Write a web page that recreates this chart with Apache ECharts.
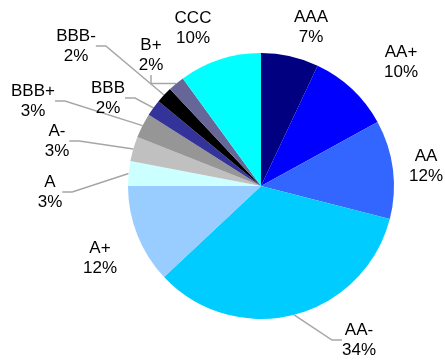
<!DOCTYPE html>
<html>
<head>
<meta charset="utf-8">
<script src="https://cdn.jsdelivr.net/npm/echarts@6/dist/echarts.min.js"></script>
<style>
html,body{margin:0;padding:0;background:#fff;}
#chart{width:445px;height:361px;}
</style>
</head>
<body>
<div id="chart"></div>
<script>
// Data
const categories = ['AAA','AA+','AA','AA-','A+','A','A-','BBB+','BBB','BBB-','B+','CCC'];
const values = [7,10,12,34,12,3,3,3,2,2,2,10];

// Styles / layout (not data)
const colors = ['#000080','#0000FF','#3366FF','#00CCFF','#99CCFF','#CCFFFF','#C0C0C0','#969696','#333399','#000000','#666699','#00FFFF'];
const showLine = [false,false,false,true,false,true,true,true,true,true,true,false];
const labelPos = [
  [311,27],[401,62],[426,166],[359,340],[100,258],[50,192],
  [57,141],[33,101],[108,98],[76,46],[151,55],[193,28]
];

const chart = echarts.init(document.getElementById('chart'), null, {renderer:'canvas'});
chart.setOption({
  animation:false,
  backgroundColor:'#ffffff',
  series:[{
    type:'pie',
    center:[261,186],
    radius:[0,133],
    startAngle:90,
    clockwise:true,
    avoidLabelOverlap:false,
    itemStyle:{borderWidth:0},
    label:{
      show:true,
      position:'outside',
      formatter:function(p){return p.name+'\n'+p.value+'%';},
      fontFamily:'Liberation Sans, Arial, sans-serif',
      fontSize:17,
      lineHeight:20,
      color:'#000',
      align:'center'
    },
    labelLine:{show:true,length:10,length2:10,lineStyle:{color:'#A6A6A6',width:1.5}},
    labelLayout:function(params){
      const p = labelPos[params.dataIndex];
      return {x:p[0], y:p[1], align:'center', verticalAlign:'middle'};
    },
    emphasis:{disabled:true},
    data:categories.map(function(c,i){
      return {
        name:c,
        value:values[i],
        itemStyle:{color:colors[i]},
        labelLine:{show:showLine[i]}
      };
    })
  }]
});
</script>
</body>
</html>
